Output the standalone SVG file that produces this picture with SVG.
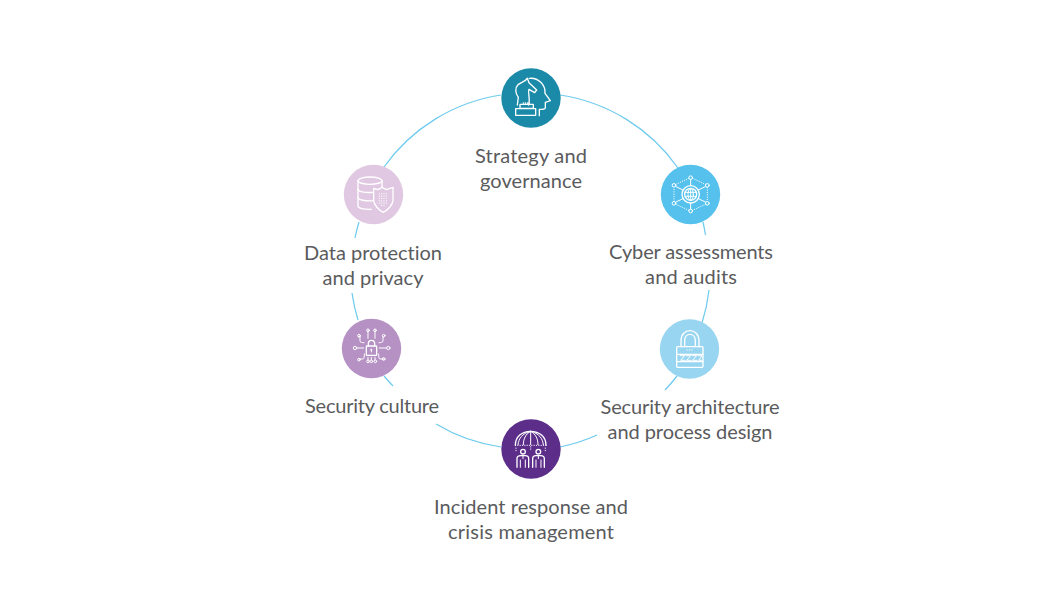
<svg xmlns="http://www.w3.org/2000/svg" width="1060" height="600" viewBox="0 0 1060 600">
<style>
.ring{fill:none;stroke:#6fcbee;stroke-width:1.25}
.lbl{font-family:"Lato","Open Sans",sans-serif;font-size:20px;fill:#5a5b5d;text-anchor:middle;font-variant-ligatures:none}
.ic{fill:none;stroke:#fff;stroke-width:4;stroke-linecap:round;stroke-linejoin:round}
.thin{stroke-width:3}
.dot{stroke-dasharray:1 6}
.wf{fill:#fff;stroke:none}
</style>
<rect width="1060" height="600" fill="#fff"/>
<g id="connectors">
<path class="ring" d="M560 95A176 176 0 0 1 678 168"/>
<path class="ring" d="M703 222A176 176 0 0 1 705.500 235"/>
<path class="ring" d="M709 290A176 176 0 0 1 702 323"/>
<path class="ring" d="M677 376A176 176 0 0 1 665 390"/>
<path class="ring" d="M597 435A176 176 0 0 1 560 447"/>
<path class="ring" d="M501 447A176 176 0 0 1 436 424"/>
<path class="ring" d="M393 386A176 176 0 0 1 384 376"/>
<path class="ring" d="M358 320A176 176 0 0 1 352 293"/>
<path class="ring" d="M355 238A176 176 0 0 1 359 222"/>
<path class="ring" d="M384 167A176 176 0 0 1 501 95"/>
</g>
<g id="node-strategy">
<circle cx="531" cy="98" r="29.700" fill="#1b8aa9"/>
<g class="ic" transform="translate(490 60) scale(.3333)">
<path d="M82 135L85 112C76 100 74 84 84 74L105 62L112 55L117 68L140 90L134 98L117 88C112 100 122 108 116 135"/>
<path d="M118 55C145 52 167 75 165 100L181 122L166 127L166 143C166 148 160 148 148 148V167"/>
<rect x="90" y="133" width="40" height="12"/><rect x="77" y="146" width="60" height="20"/>
<path class="thin" d="M100 128v4M106 128v4M112 128v4M118 128v4"/>
</g>
<text class="lbl" x="531" y="163" textLength="112">Strategy and</text>
<text class="lbl" x="531" y="188" textLength="102">governance</text>
</g>
<g id="node-cyber">
<circle cx="690.500" cy="194.500" r="29.700" fill="#56c1ed"/>
<g class="ic" transform="translate(650 155) scale(.3333)">
<circle cx="122" cy="118" r="26"/><circle cx="122" cy="118" r="18"/>
<ellipse class="thin" cx="122" cy="118" rx="8" ry="18"/>
<path class="thin" d="M122 100V136M105 112H139M105 124H139"/>
<path class="thin" d="M122 74V92M78 95L99 105M166 95L145 105M78 141L99 131M166 141L145 131M122 162V144"/>
<path class="thin dot" d="M78 88L116 70M128 70L166 88M172 98V139M166 148L128 166M116 166L78 148M72 139V98"/>
<circle class="thin" cx="122" cy="68" r="5.500"/><circle class="thin" cx="172" cy="91" r="5.500"/><circle class="thin" cx="172" cy="145" r="5.500"/><circle class="thin" cx="122" cy="168" r="5.500"/><circle class="thin" cx="72" cy="145" r="5.500"/><circle class="thin" cx="72" cy="91" r="5.500"/>
</g>
<text class="lbl" x="691" y="259" textLength="164">Cyber assessments</text>
<text class="lbl" x="691" y="284" textLength="92">and audits</text>
</g>
<g id="node-architecture">
<circle cx="689.500" cy="349" r="29.700" fill="#98d5f0"/>
<g class="ic" transform="translate(650 310) scale(.3333)">
<rect x="80" y="110" width="79" height="62" rx="3"/>
<path d="M93 110V92C93 52 147 52 147 92V110M104 110V92C104 67 136 67 136 92V110"/>
<path d="M80 133H159M80 155H159"/>
<path class="thin" d="M90 137H104L92 151H106M108 137H122L110 151H124M126 137H140L128 151H142M144 137H156L146 151H156"/>
<path class="thin dot" d="M111 120H130"/>
</g>
<text class="lbl" x="690" y="414" textLength="179">Security architecture</text>
<text class="lbl" x="690" y="439" textLength="165">and process design</text>
</g>
<g id="node-incident">
<circle cx="531" cy="449" r="29.700" fill="#5c2e8a"/>
<g class="ic" transform="translate(490 410) scale(.3333)">
<path d="M76 106C76 80 96 64 122 64C148 64 168 80 168 106"/>
<path class="thin" d="M122 64V104M122 64C106 72 100 88 100 104M122 64C138 72 144 88 144 104M122 64C96 70 86 86 84 104M122 64C148 70 158 86 160 104"/>
<path class="thin dot" d="M76 106H168"/>
<path class="thin dot" d="M78 114V122M166 114V122M122 110V122"/>
<circle cx="99" cy="125" r="7"/><circle cx="145" cy="125" r="7"/>
<path d="M81 172V146C81 140 87 137 92 137H106C112 137 116 140 116 146V172M128 172V146C128 140 132 137 138 137H152C158 137 163 140 163 146V172"/>
<path class="thin" d="M91 172V150M106 172V150M138 172V150M153 172V150M99 137V146M145 137V146"/>
</g>
<text class="lbl" x="531" y="514" textLength="194">Incident response and</text>
<text class="lbl" x="531" y="539" textLength="166">crisis management</text>
</g>
<g id="node-culture">
<circle cx="371.500" cy="348.500" r="29.700" fill="#b591c4"/>
<g class="ic" transform="translate(332 310) scale(.3333)">
<rect x="103" y="108" width="31" height="28" rx="2"/>
<path d="M109 108V101C109 88 128 88 128 101V108"/>
<path class="thin" d="M118 119V126"/><circle class="wf" cx="118" cy="119" r="2.800"/>
<path class="thin" d="M108 62V85M129 62V85M84 80H80M84 80V92C84 98 90 98 96 98M153 80V92C153 98 146 98 141 98"/>
<path class="thin" d="M75 114H95M142 114H163M108 142V150M129 142V150M118 142V150"/>
<path class="thin" d="M82 147H92C97 147 97 140 97 132M155 147H145C140 147 140 140 140 132"/>
<circle class="thin" cx="108" cy="61" r="4"/><circle class="thin" cx="129" cy="61" r="4"/><circle class="thin" cx="81" cy="77" r="4"/><circle class="thin" cx="155" cy="77" r="4"/><circle class="thin" cx="69" cy="114" r="5"/><circle class="thin" cx="169" cy="114" r="5"/><circle class="thin" cx="81" cy="149" r="4"/><circle class="thin" cx="155" cy="147" r="4"/><circle class="thin" cx="108" cy="154" r="4"/><circle class="thin" cx="118" cy="154" r="4"/><circle class="thin" cx="130" cy="154" r="4"/>
</g>
<text class="lbl" x="372" y="413" textLength="134">Security culture</text>
</g>
<g id="node-data">
<circle cx="373.500" cy="194.500" r="29.700" fill="#e0c8e2"/>
<g class="ic" transform="translate(334 155) scale(.3333)">
<ellipse cx="108" cy="77" rx="36" ry="11"/>
<path d="M72 77V152C72 160 90 164 112 163M144 77V96"/>
<path d="M72 102C72 110 90 114 118 112M72 127C72 135 95 139 118 137"/>
<path d="M119 100L132 104L144 97L157 104L177 97V135C177 150 160 166 148 172C135 166 119 150 119 135Z"/>
<path class="thin dot" d="M136 116V150M143 116V156M150 116V156M157 116V150" stroke-dasharray="2 5"/>
</g>
<text class="lbl" x="373" y="260" textLength="138">Data protection</text>
<text class="lbl" x="373" y="285" textLength="101">and privacy</text>
</g>
</svg>
